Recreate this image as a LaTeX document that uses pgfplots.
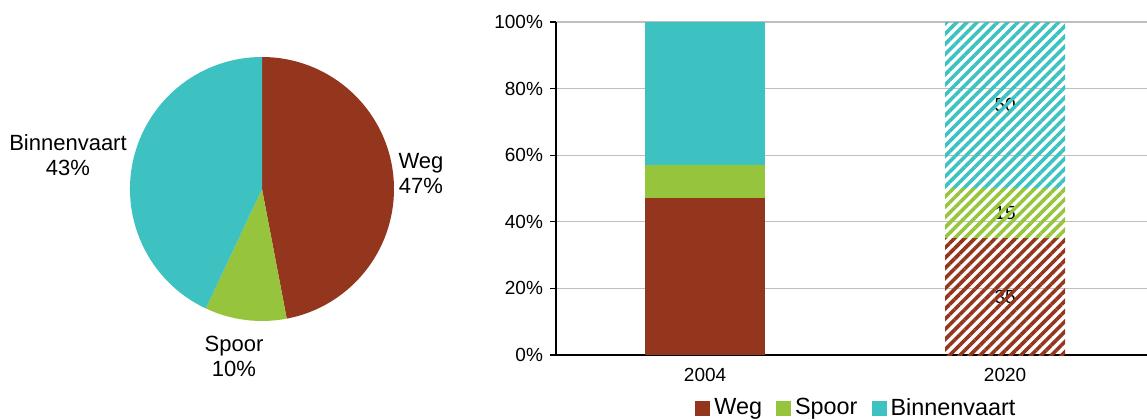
\documentclass[border=0pt]{standalone}
\usepackage{pgfplots}
\pgfplotsset{compat=1.18}
\usepackage{pgfplotstable}
\usetikzlibrary{patterns.meta}
\usepackage{fontspec}
\setmainfont{Liberation Sans}
\definecolor{weg}{HTML}{94361E}
\definecolor{spoor}{HTML}{97C43D}
\definecolor{binnen}{HTML}{3DC1C1}
\definecolor{gridc}{HTML}{BFBFBF}

\pgfplotstableread{
label share
Weg 47
Spoor 10
Binnenvaart 43
}\piedata

\pgfplotstableread{
x Weg Spoor Binnenvaart
0 47 10 43
1 0 0 0
}\solid
\pgfplotstableread{
x Weg Spoor Binnenvaart
0 0 0 0
1 35 15 50
}\hatched

\begin{document}
\begin{tikzpicture}
\useasboundingbox (0,0) rectangle (573.5pt,209.5pt);
% pie angles from the data
\pgfplotstablegetelem{0}{share}\of\piedata \pgfmathsetmacro{\eA}{90-3.6*\pgfplotsretval}
\pgfplotstablegetelem{1}{share}\of\piedata \pgfmathsetmacro{\eB}{\eA-3.6*\pgfplotsretval}
\pgfplotstablegetelem{2}{share}\of\piedata \pgfmathsetmacro{\eC}{\eB-3.6*\pgfplotsretval}
\pgfmathsetmacro{\xA}{cos(\eA)}\pgfmathsetmacro{\yA}{sin(\eA)}
\pgfmathsetmacro{\xB}{cos(\eB)}\pgfmathsetmacro{\yB}{sin(\eB)}
\begin{axis}[
  at={(131pt,115pt)}, anchor=center,
  scale only axis, width=132pt, height=132pt,
  xmin=-1, xmax=1, ymin=-1, ymax=1,
  hide axis, clip=false]
  \fill[weg] (axis cs:0,0) -- (axis cs:0,1) arc[start angle=90, end angle=\eA, radius=66pt] -- cycle;
  \fill[spoor] (axis cs:0,0) -- (axis cs:\xA,\yA) arc[start angle=\eA, end angle=\eB, radius=66pt] -- cycle;
  \fill[binnen] (axis cs:0,0) -- (axis cs:\xB,\yB) arc[start angle=\eB, end angle=\eC, radius=66pt] -- cycle;
\end{axis}
\node[align=center, font=\fontsize{11}{12.5}\selectfont] at (210.5pt,123pt) {Weg\\47\%};
\node[align=center, font=\fontsize{11}{12.5}\selectfont] at (34pt,132pt) {Binnenvaart\\43\%};
\node[align=center, font=\fontsize{11}{12.5}\selectfont] at (117pt,31.5pt) {Spoor\\10\%};

\begin{axis}[
  at={(278pt,32pt)}, anchor=south west,
  scale only axis, width=295.5pt, height=166.5pt,
  ybar stacked, bar width=60pt,
  xmin=-0.497, xmax=1.473, ymin=0, ymax=100,
  axis x line*=bottom, axis y line*=left,
  axis line style={black, line width=0.6pt},
  xtick={0,1}, xticklabels={2004,2020},
  x tick style={draw=none},
  extra x ticks={0.5}, extra x tick labels={},
  extra x tick style={major tick length=3.5pt, tick style={black, line width=0.6pt}, tick align=outside},
  ytick={0,20,40,60,80,100},
  yticklabels={0\%,20\%,40\%,60\%,80\%,100\%},
  y tick style={black, line width=0.6pt},
  tick align=outside, major tick length=3pt,
  ymajorgrids, grid style={gridc, line width=0.6pt},
  tick label style={font=\fontsize{9.5}{11}\selectfont},
  legend style={at={(0.51,-0.16)}, anchor=center, draw=none, legend columns=-1,
    font=\fontsize{11.7}{12}\selectfont, inner sep=0pt,
    /tikz/every even column/.append style={column sep=5pt},
    /tikz/every odd column/.append style={column sep=0pt}},
  legend image code/.code={\fill[#1] (0pt,-3.75pt) rectangle (7.5pt,3.75pt);},
  clip=false]
  \addplot[fill=weg, draw=none] table[x=x, y=Weg] {\solid};
  \addlegendentry{Weg}
  \addplot[forget plot, draw=none, pattern={Lines[angle=45,distance=3.6pt,line width=1.8pt]}, pattern color=weg] table[x=x, y=Weg] {\hatched};
  \addplot[fill=spoor, draw=none] table[x=x, y=Spoor] {\solid};
  \addlegendentry{Spoor}
  \addplot[forget plot, draw=none, pattern={Lines[angle=45,distance=3.6pt,line width=1.8pt]}, pattern color=spoor] table[x=x, y=Spoor] {\hatched};
  \addplot[fill=binnen, draw=none] table[x=x, y=Binnenvaart] {\solid};
  \addlegendentry{Binnenvaart}
  \addplot[forget plot, draw=none, pattern={Lines[angle=45,distance=3.6pt,line width=1.8pt]}, pattern color=binnen] table[x=x, y=Binnenvaart] {\hatched};
  \node[font=\fontsize{9.5}{11}\selectfont] at (axis cs:1,17.5) {35};
  \node[font=\fontsize{9.5}{11}\selectfont] at (axis cs:1,42.5) {15};
  \node[font=\fontsize{9.5}{11}\selectfont] at (axis cs:1,75) {50};
\end{axis}
\end{tikzpicture}
\end{document}
